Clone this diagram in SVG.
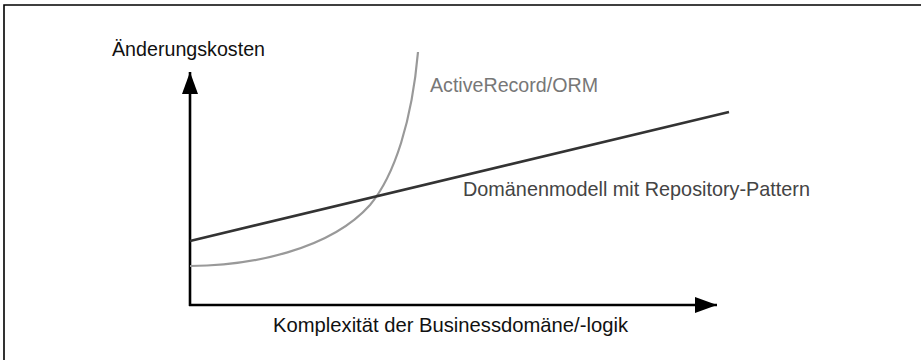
<svg xmlns="http://www.w3.org/2000/svg" width="921" height="360" viewBox="0 0 921 360">
<style>
  text { font-family: "Liberation Sans", "DejaVu Sans", sans-serif; font-size: 21px; }
  .axis { stroke: #000; stroke-width: 2.6; fill: none; }
  .frame { stroke: #000; stroke-width: 1.6; fill: none; }
</style>
<defs>
  <marker id="arrow" markerUnits="userSpaceOnUse" markerWidth="24" markerHeight="18" refX="22" refY="8" orient="auto">
    <path d="M0,0 L22,8 L0,16 Z" fill="#000"/>
  </marker>
</defs>
<rect width="921" height="360" fill="#fff"/>
<path class="frame" d="M4,360 V5 H921"/>
<g id="axes">
  <path class="axis" d="M190,306 V72" marker-end="url(#arrow)"/>
  <path class="axis" d="M189,305 H717" marker-end="url(#arrow)"/>
</g>
<g id="connectors">
  <path id="orm-curve" d="M190,266 C250,266 330,250 370,205 C395,175 412,120 418,52" fill="none" stroke="#999" stroke-width="2.2"/>
  <path id="repo-line" d="M190,241 L729,112" fill="none" stroke="#333" stroke-width="2.6"/>
</g>
<g id="label-y"><text x="112" y="56" fill="#111" textLength="153" lengthAdjust="spacingAndGlyphs">Änderungskosten</text></g>
<g id="label-orm"><text x="430" y="92" fill="#777" textLength="168" lengthAdjust="spacingAndGlyphs">ActiveRecord/ORM</text></g>
<g id="label-repo"><text x="463" y="196" fill="#444" textLength="347" lengthAdjust="spacingAndGlyphs">Domänenmodell mit Repository-Pattern</text></g>
<g id="label-x"><text x="273" y="332" fill="#111" textLength="355" lengthAdjust="spacingAndGlyphs">Komplexität der Businessdomäne/-logik</text></g>
</svg>
